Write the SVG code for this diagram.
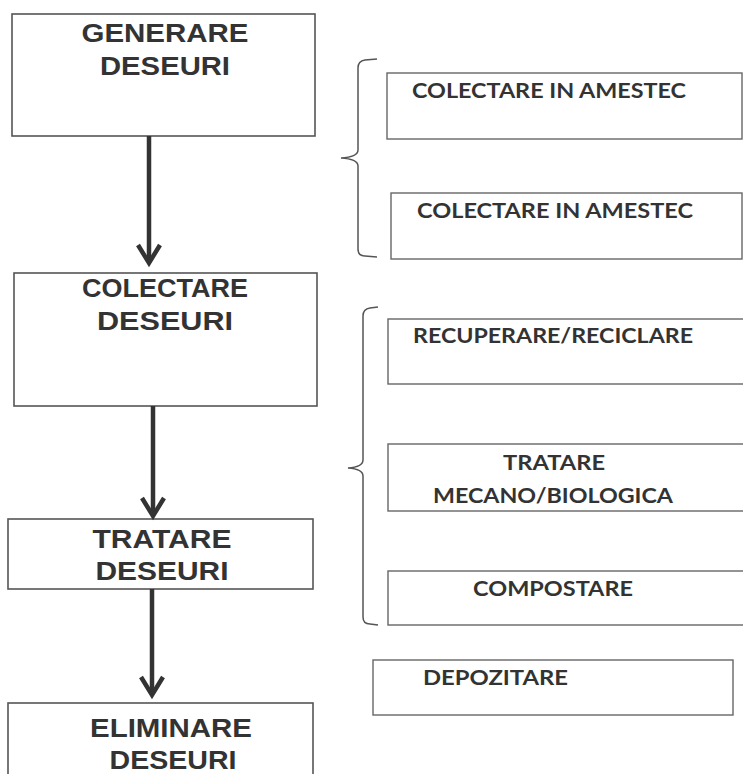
<svg xmlns="http://www.w3.org/2000/svg" width="743" height="774" viewBox="0 0 743 774">
<defs>
<style>
.box{fill:#fff;stroke:#555;stroke-width:1.6}
.rbox{fill:#fff;stroke:#666;stroke-width:1.4}
.lt{font-family:"Liberation Sans",Arial,sans-serif;font-weight:bold;font-size:25px;fill:#333;text-anchor:middle}
.rt{font-family:Lato,"Open Sans",sans-serif;font-weight:bold;font-size:21px;fill:#333}
.shaft{stroke:#333;stroke-width:4.5;fill:none}
.head{stroke:#333;stroke-width:4.5;fill:none;stroke-linejoin:miter}
.brace{stroke:#555;stroke-width:1.5;fill:none}
</style>
</defs>
<rect width="743" height="774" fill="#fff"/>
<g id="n-generare">
<rect class="box" x="12" y="14" width="303" height="122"/>
<text class="lt" x="165" y="42" textLength="167" lengthAdjust="spacingAndGlyphs">GENERARE</text>
<text class="lt" x="165" y="75" textLength="130" lengthAdjust="spacingAndGlyphs">DESEURI</text>
</g>
<g id="n-colectare">
<rect class="box" x="14" y="273" width="303" height="133"/>
<text class="lt" x="165" y="297" textLength="166" lengthAdjust="spacingAndGlyphs">COLECTARE</text>
<text class="lt" x="165" y="330" textLength="136" lengthAdjust="spacingAndGlyphs">DESEURI</text>
</g>
<g id="n-tratare">
<rect class="box" x="8" y="519" width="305" height="70"/>
<text class="lt" x="162" y="548" textLength="139" lengthAdjust="spacingAndGlyphs">TRATARE</text>
<text class="lt" x="162" y="580" textLength="133" lengthAdjust="spacingAndGlyphs">DESEURI</text>
</g>
<g id="n-eliminare">
<rect class="box" x="8" y="703" width="305" height="80"/>
<text class="lt" x="171" y="737" textLength="162" lengthAdjust="spacingAndGlyphs">ELIMINARE</text>
<text class="lt" x="173" y="769" textLength="127" lengthAdjust="spacingAndGlyphs">DESEURI</text>
</g>
<g id="n-colectare-amestec-1">
<rect class="rbox" x="387" y="73" width="355" height="66"/>
<text class="rt" x="412" y="98" textLength="274" lengthAdjust="spacingAndGlyphs">COLECTARE IN AMESTEC</text>
</g>
<g id="n-colectare-amestec-2">
<rect class="rbox" x="391" y="193" width="351" height="66"/>
<text class="rt" x="417" y="218" textLength="276" lengthAdjust="spacingAndGlyphs">COLECTARE IN AMESTEC</text>
</g>
<g id="n-recuperare">
<rect class="rbox" x="388" y="319" width="358" height="65"/>
<text class="rt" x="413" y="343" textLength="280" lengthAdjust="spacingAndGlyphs">RECUPERARE/RECICLARE</text>
</g>
<g id="n-tratare-mb">
<rect class="rbox" x="388" y="444" width="358" height="67"/>
<text class="rt" x="503" y="470" textLength="102" lengthAdjust="spacingAndGlyphs">TRATARE</text>
<text class="rt" x="433" y="503" textLength="240" lengthAdjust="spacingAndGlyphs">MECANO/BIOLOGICA</text>
</g>
<g id="n-compostare">
<rect class="rbox" x="388" y="571" width="358" height="54"/>
<text class="rt" x="473" y="596" textLength="160" lengthAdjust="spacingAndGlyphs">COMPOSTARE</text>
</g>
<g id="n-depozitare">
<rect class="rbox" x="373" y="660" width="360" height="55"/>
<text class="rt" x="423" y="685" textLength="145" lengthAdjust="spacingAndGlyphs">DEPOZITARE</text>
</g>
<g id="connectors">
<line class="shaft" x1="149" y1="136" x2="149" y2="262"/>
<polyline class="head" points="138,245 149,263 160,245"/>
<line class="shaft" x1="153" y1="406" x2="153" y2="515"/>
<polyline class="head" points="142,498 153,516 164,498"/>
<line class="shaft" x1="152" y1="589" x2="152" y2="694"/>
<polyline class="head" points="141,677 152,695 163,677"/>
<path class="brace" d="M377,59 L365,60 Q358,61 358,68 L358,150 Q358,157 341,158 Q358,159 358,166 L358,249 Q358,256 365,256 L377,257"/>
<path class="brace" d="M378,307 L370,308 Q363,309 363,316 L363,460 Q363,467 348,468 Q363,469 363,476 L363,617 Q363,624 370,624 L378,625"/>
</g>
</svg>
